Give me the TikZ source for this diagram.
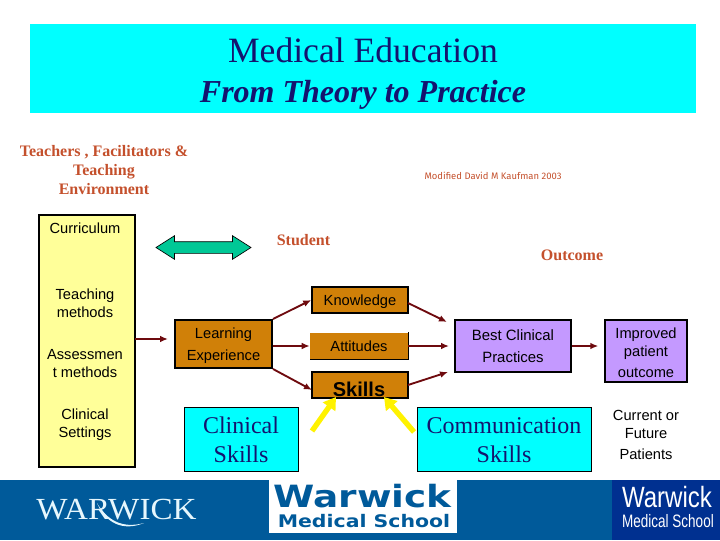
\documentclass[tikz,border=0pt]{standalone}
\usepackage{fontspec}
\setmainfont{Liberation Serif}
\setsansfont{Liberation Sans}
\newfontfamily\handfont{Fira Sans}
\newfontfamily\logofont{DejaVu Sans}
\usetikzlibrary{arrows.meta,shapes.arrows}
\definecolor{titlecyan}{HTML}{00FFFF}
\definecolor{titlenavy}{HTML}{14146E}
\definecolor{paleyellow}{HTML}{FFFF99}
\definecolor{boxorange}{HTML}{D08008}
\definecolor{boxpurple}{HTML}{C499FF}
\definecolor{darkred}{HTML}{6E0A0E}
\definecolor{headred}{HTML}{C4502C}
\definecolor{arrowgreen}{HTML}{00C896}
\definecolor{bandblue}{HTML}{005A9A}
\definecolor{logoblue}{HTML}{003090}
\tikzset{
	orangebox/.style={fill=boxorange, draw=black, line width=1.1pt, inner sep=0pt, font=\sffamily\fontsize{11}{13}\selectfont, align=center},
	purplebox/.style={fill=boxpurple, draw=black, line width=1pt, inner sep=0pt, font=\sffamily\fontsize{11.2}{16}\selectfont, align=center},
	cyanbox/.style={fill=titlecyan, draw=black, line width=0.5pt, inner sep=0pt, text=titlenavy, font=\fontsize{18}{22}\selectfont, align=center},
	sidetext/.style={font=\sffamily\fontsize{11}{13.5}\selectfont, align=center, inner sep=0pt},
	headtext/.style={text=headred, font=\bfseries\fontsize{12}{14.2}\selectfont, align=center, inner sep=0pt},
	flow/.style={-{Latex[length=6pt,width=5pt]}, darkred, line width=1.4pt},
	skillarrow/.style={-{Triangle[length=9pt,width=11pt]}, yellow, line width=4pt}
}
\begin{document}
\begin{tikzpicture}[x=0.75pt, y=-0.75pt]
	\useasboundingbox (0,0) rectangle (720,540);
	\node[fill=titlecyan, minimum width=499.5pt, minimum height=66.75pt, inner sep=0pt] (title) at (363,68.5) {};
	\node[font=\fontsize{26.7}{30}\selectfont, text=titlenavy, inner sep=0pt] (titleone) at (363,50) {Medical Education};
	\node[font=\bfseries\itshape\fontsize{24}{28}\selectfont, text=titlenavy, inner sep=0pt] (titletwo) at (363,95) {From Theory to Practice};
	\node[headtext] (teachers) at (104,170) {Teachers , Facilitators \&\\Teaching\\Environment};
	\node[text=headred, font=\handfont\fontsize{7.1}{9}\selectfont, inner sep=0pt] (modified) at (493,176) {Modified David M Kaufman 2003};
	\node[headtext] (student) at (303.5,240) {Student};
	\node[headtext] (outcome) at (572,255) {Outcome};
	\node[fill=paleyellow, draw=black, line width=1.2pt, minimum width=72pt, minimum height=189pt, inner sep=0pt] (curriculum) at (87,341) {};
	\node[sidetext] (curtext) at (85,228) {Curriculum};
	\node[sidetext] (teachtext) at (85,303) {Teaching\\methods};
	\node[sidetext] (asstext) at (85,364) {Assessmen\\t methods};
	\node[sidetext] (settext) at (85,425) {Clinical\\Settings};
	\node[double arrow, double arrow head extend=4.5pt, double arrow tip angle=65, double arrow head indent=0pt, fill=arrowgreen, draw=black, line width=0.5pt, minimum height=71.25pt, minimum width=17.25pt, text height=8.25pt, inner sep=0pt] (greenarrow) at (203.5,247.5) {};
	\node[orangebox, line width=1.5pt, minimum width=72.75pt, minimum height=36pt, font=\sffamily\fontsize{11}{16.5}\selectfont] (learning) at (223.5,344) {\rule{0pt}{11pt}Learning\\Experience};
	\node[orangebox, minimum width=72pt, minimum height=19.5pt] (knowledge) at (360,300) {\rule{0pt}{11pt}Knowledge};
	\node[fill=boxorange, inner sep=0pt, font=\sffamily\fontsize{11}{13}\selectfont, minimum width=73.5pt, minimum height=20.25pt] (attitudes) at (359,346) {\rule{0pt}{9pt}Attitudes};
	\draw[black, line width=0.9pt] (attitudes.north east) -- (attitudes.south east) -- (attitudes.south west);
	\coordinate (curout) at (135,339);
	\coordinate (learnin) at (168,339);
	\coordinate (skillsin) at (312,390);
	\coordinate (bestone) at (447,322);
	\coordinate (besttwo) at (449,346);
	\coordinate (bestthree) at (448,372);
	\coordinate (knowout) at (408,303);
	\coordinate (skillsout) at (408,385);
	\coordinate (clinout) at (312,431);
	\coordinate (commout) at (414,432);
	\coordinate (skillsleft) at (336,397);
	\coordinate (skillsright) at (384,397);
	\node[orangebox, minimum width=72pt, minimum height=19.5pt, font=\sffamily\bfseries\fontsize{15}{17}\selectfont] (skills) at (360,385) {};
	\draw[skillarrow] (clinout) -- (skillsleft);
	\draw[skillarrow] (commout) -- (skillsright);
	\node[font=\sffamily\bfseries\fontsize{15}{17}\selectfont, inner sep=0pt] (skillstext) at (359,389) {Skills};
	\node[purplebox, minimum width=87pt, minimum height=39pt] (practices) at (513,346) {Best Clinical\\Practices};
	\node[purplebox, minimum width=61.5pt, minimum height=46.5pt, font=\sffamily\fontsize{11}{13.5}\selectfont] (improved) at (646,351) {\rule{0pt}{11pt}Improved\\patient\\[2pt]outcome};
	\node[cyanbox, minimum width=85.5pt, minimum height=48pt] (clinical) at (241,439) {\rule{0pt}{14pt}Clinical\\Skills};
	\node[cyanbox, minimum width=130.5pt, minimum height=48pt] (communication) at (504,439) {\rule{0pt}{14pt}Communication\\Skills};
	\node[sidetext] (patients) at (646,435) {Current or\\Future\\[2pt]Patients};
	\draw[flow] (curout) -- (learnin);
	\draw[flow] (learning.north east) -- (knowledge.west);
	\draw[flow] (learning.east |- attitudes.west) -- (attitudes.west);
	\draw[flow] (learning.south east) -- (skillsin);
	\draw[flow] (knowout) -- (bestone);
	\draw[flow] (attitudes.east) -- (besttwo |- attitudes.east);
	\draw[flow] (skillsout) -- (bestthree);
	\draw[flow, shorten >=4.5pt] (practices.east) -- (improved.west |- practices.east);
	\fill[bandblue] (0,480) rectangle (720,540);
	\fill[white] (269,480) rectangle (457,533);
	\fill[logoblue] (612,480) rectangle (720,540);
	\node[text=white!90!cyan, font=\fontsize{23}{28}\selectfont, inner sep=0pt, xscale=1.08, transform shape] (warwickleft) at (116.5,510) {WARWICK};
	\fill[white!90!cyan] (97,503) .. controls (105,522) and (122,532) .. (144,523) .. controls (122,529) and (107,520) .. (97,503);
	\node[text=bandblue, font=\logofont\bfseries\fontsize{23}{26}\selectfont, inner sep=0pt, xscale=1.22, transform shape] (warwickmid) at (362.5,496) {Warwick};
	\node[text=bandblue, font=\logofont\bfseries\fontsize{13}{15}\selectfont, inner sep=0pt, xscale=1.18, transform shape] (schoolmid) at (364,521) {Medical School};
	\node[text=white, font=\sffamily\fontsize{22}{25}\selectfont, inner sep=0pt, xscale=0.82, transform shape] (warwickright) at (667,497.5) {Warwick};
	\node[text=white, font=\sffamily\fontsize{13.5}{16}\selectfont, inner sep=0pt, xscale=0.75, transform shape] (schoolright) at (668,521) {Medical School};
\end{tikzpicture}
\end{document}
